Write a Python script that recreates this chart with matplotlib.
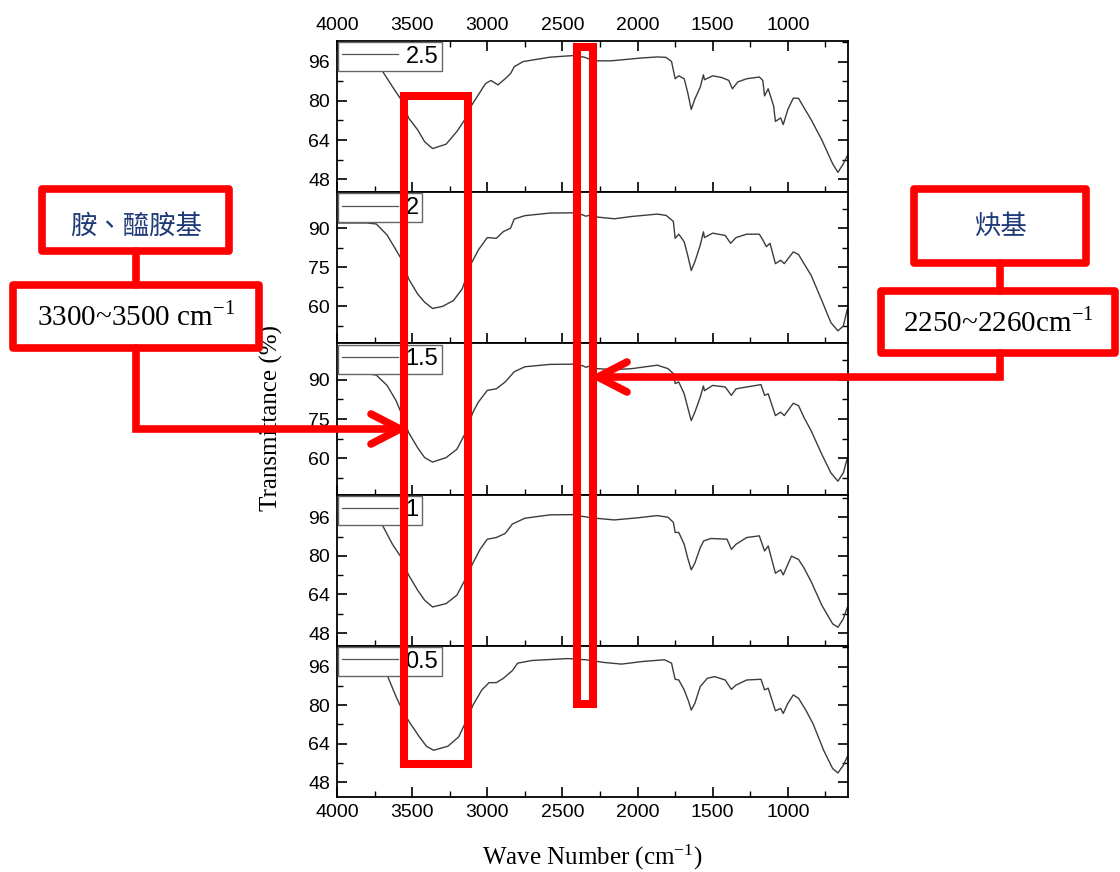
import matplotlib
matplotlib.use("Agg")
import matplotlib.pyplot as plt
from matplotlib.patches import Rectangle
from matplotlib.lines import Line2D
from matplotlib.ticker import MultipleLocator, FixedLocator
import matplotlib.transforms as mtransforms

plt.rcParams["font.family"] = ["Liberation Sans", "DejaVu Sans"]
plt.rcParams["mathtext.fontset"] = "stix"

# sample labels, top panel first
labels = ["2.5", "2", "1.5", "1", "0.5"]

# spectra (wavenumber cm-1, transmittance %)
wn_25 = [4000, 3800, 3702, 3607, 3560, 3524, 3464, 3417, 3364, 3274, 3202, 3150, 3107, 3012, 2976,
         2929, 2881, 2845, 2821, 2762, 2583, 2417, 2395, 2369, 2345, 2310, 2274, 2179, 2107, 1988,
         1869, 1810, 1774, 1750, 1726, 1690, 1667, 1643, 1619, 1583, 1562, 1555, 1500, 1440, 1393,
         1369, 1333, 1274, 1190, 1167, 1155, 1131, 1095, 1083, 1048, 1031, 1000, 964, 929, 893,
         845, 774, 702, 667, 631, 605]
t_25 = [93.0, 93.2, 92.5, 83.5, 79.3, 73.0, 68.2, 63.3, 60.5, 62.3, 67.5, 72.3, 77.9, 87.0, 88.3,
        86.5, 89.0, 91.1, 93.9, 96.0, 97.8, 98.5, 97.6, 98.0, 97.6, 96.7, 96.3, 96.3, 96.7, 97.4,
        97.9, 97.7, 96.0, 89.0, 90.2, 89.0, 83.5, 76.5, 80.7, 85.6, 90.6, 88.6, 90.2, 89.5, 88.3,
        84.9, 87.7, 89.0, 89.7, 88.3, 82.0, 84.9, 77.9, 71.6, 73.0, 70.3, 76.5, 81.1, 81.0, 77.2,
        72.3, 64.0, 54.3, 50.8, 54.3, 57.5]

wn_2 = [4000, 3800, 3738, 3667, 3607, 3560, 3524, 3464, 3417, 3364, 3298, 3226, 3167, 3107, 3060,
        3000, 2940, 2893, 2845, 2821, 2750, 2583, 2417, 2395, 2369, 2345, 2322, 2274, 2155, 2036,
        1869, 1810, 1762, 1750, 1726, 1690, 1667, 1643, 1619, 1583, 1562, 1555, 1500, 1417, 1381,
        1345, 1274, 1190, 1167, 1143, 1119, 1083, 1048, 1024, 964, 929, 893, 845, 774, 714,
        667, 631, 605]
t_2 = [92.0, 92.0, 91.6, 87.4, 81.6, 77.0, 70.6, 64.8, 61.6, 59.2, 60.0, 62.2, 66.7, 76.4, 81.6,
       86.4, 86.1, 88.7, 90.0, 93.5, 94.8, 95.8, 95.9, 95.1, 95.2, 94.6, 94.9, 94.3, 93.6, 94.5,
       95.4, 94.9, 92.6, 86.1, 87.7, 84.8, 79.7, 73.8, 77.1, 83.5, 88.6, 86.4, 88.1, 87.2, 84.2,
       86.4, 87.7, 87.7, 85.5, 82.9, 84.2, 76.4, 77.7, 76.4, 80.9, 79.9, 76.4, 71.9, 62.2, 53.8,
       50.6, 52.5, 58.8]

wn_15 = [4000, 3800, 3738, 3667, 3607, 3560, 3524, 3464, 3417, 3364, 3274, 3202, 3150, 3095, 3060,
         3000, 2940, 2881, 2821, 2750, 2583, 2417, 2395, 2369, 2345, 2322, 2274, 2155, 2036, 1869,
         1798, 1762, 1750, 1726, 1690, 1667, 1643, 1619, 1583, 1562, 1555, 1500, 1417, 1376, 1345,
         1274, 1179, 1155, 1131, 1083, 1048, 1024, 964, 929, 893, 845, 774, 714, 667, 631,
         605]
t_15 = [92.3, 92.3, 91.7, 87.8, 82.0, 75.6, 69.9, 64.1, 60.3, 58.6, 60.3, 63.5, 69.2, 77.6, 81.4,
        85.9, 86.5, 89.1, 93.0, 94.9, 95.8, 95.9, 95.0, 95.4, 94.7, 95.1, 94.2, 93.8, 94.2, 95.5,
        94.2, 92.3, 88.5, 89.1, 84.6, 79.5, 74.4, 77.6, 83.3, 87.6, 85.8, 87.8, 87.2, 84.0, 86.5,
        87.2, 88.1, 84.0, 84.6, 76.3, 77.6, 76.3, 81.0, 80.1, 75.6, 70.5, 61.5, 54.5, 51.3, 54.5,
        60.0]

wn_1 = [4000, 3780, 3702, 3631, 3571, 3524, 3464, 3417, 3364, 3274, 3202, 3143, 3095, 3048, 3000,
        2940, 2881, 2833, 2750, 2583, 2417, 2395, 2369, 2298, 2155, 2012, 1869, 1798, 1762, 1750,
        1726, 1690, 1667, 1643, 1619, 1583, 1560, 1512, 1405, 1376, 1345, 1274, 1190, 1155, 1131,
        1083, 1048, 1031, 976, 929, 893, 845, 774, 702, 667, 631, 605]
t_1 = [93.3, 93.3, 93.2, 84.8, 79.2, 72.1, 65.8, 61.6, 58.8, 60.2, 63.7, 70.7, 77.1, 82.7, 86.9,
       87.6, 89.3, 93.2, 95.6, 97.0, 97.1, 96.5, 96.4, 95.7, 94.9, 95.7, 96.7, 96.0, 93.9, 89.7,
       89.7, 84.8, 79.2, 74.2, 77.0, 83.4, 86.2, 87.2, 86.9, 82.7, 84.8, 87.6, 88.3, 82.0, 84.1,
       72.8, 74.2, 72.1, 79.9, 78.5, 75.0, 69.3, 59.5, 51.8, 50.4, 53.9, 58.5]

wn_05 = [4000, 3720, 3667, 3607, 3560, 3512, 3452, 3405, 3357, 3262, 3190, 3143, 3095, 3036, 2988,
         2940, 2893, 2833, 2798, 2702, 2464, 2345, 2226, 2107, 1964, 1821, 1774, 1762, 1750, 1726,
         1690, 1660, 1643, 1619, 1583, 1536, 1488, 1417, 1376, 1345, 1274, 1179, 1155, 1131, 1083,
         1048, 1031, 1000, 964, 929, 881, 833, 762, 702, 667, 631, 605]
t_05 = [93.5, 93.5, 92.5, 83.5, 77.2, 72.3, 66.8, 62.9, 61.2, 62.9, 66.8, 73.0, 80.0, 86.3, 89.3,
        89.3, 91.1, 94.3, 97.4, 98.5, 99.3, 98.8, 97.7, 97.0, 98.1, 98.8, 97.4, 93.9, 90.7, 90.4,
        86.3, 81.4, 77.9, 80.7, 87.7, 91.1, 91.8, 90.4, 86.5, 88.3, 90.4, 90.7, 86.3, 87.0, 77.6,
        78.6, 76.5, 80.7, 84.2, 82.8, 77.9, 72.3, 61.2, 53.6, 51.8, 55.0, 58.5]

spectra_wn = [wn_25, wn_2, wn_15, wn_1, wn_05]
spectra_t = [t_25, t_2, t_15, t_1, t_05]

ylims = [(42.7, 104.4), (45.8, 103.8), (46.2, 103.8), (42.7, 105.4), (41.8, 104.6)]
yticks = [[48, 64, 80, 96], [60, 75, 90], [60, 75, 90], [48, 64, 80, 96], [48, 64, 80, 96]]
yminor = [8, 7.5, 7.5, 8, 8]

# highlighted bands (wavenumber)
amide_band = (3555, 3131)
alkyne_band = (2405, 2298)

W, H = 1120, 872
fig, axes = plt.subplots(5, 1, sharex=True, figsize=(W / 100, H / 100), dpi=100,
                         gridspec_kw={"hspace": 0})
fig.subplots_adjust(left=337 / W, right=848 / W, top=1 - 41 / H, bottom=1 - 797 / H)

for i, ax in enumerate(axes):
    ax.plot(spectra_wn[i], spectra_t[i], color="#3c3c3c", lw=1.0, label=labels[i])
    ax.set_xlim(4000, 600)
    ax.set_ylim(*ylims[i])
    ax.yaxis.set_major_locator(FixedLocator(yticks[i]))
    ax.yaxis.set_minor_locator(MultipleLocator(yminor[i]))
    ax.xaxis.set_major_locator(MultipleLocator(500))
    ax.xaxis.set_minor_locator(MultipleLocator(250))
    ax.tick_params(which="both", direction="in", right=True, top=(i == 0),
                   labelsize=14, pad=5)
    ax.tick_params(which="major", length=7, width=1.2)
    ax.tick_params(which="minor", length=4, width=1.0)
    if i == 0:
        ax.tick_params(labeltop=True)
    for sp in ax.spines.values():
        sp.set_linewidth(1.3)
    leg = ax.legend(loc="upper left", fontsize=17, handlelength=2.4, handletextpad=0.3,
                    borderpad=0.15, borderaxespad=0.05, fancybox=False, framealpha=1,
                    edgecolor="#666666")
    leg.get_frame().set_linewidth(1.0)
    leg.get_lines()[0].set_linewidth(0.9)
    leg.get_lines()[0].set_color("#555555")
    leg.set_zorder(5)

fig.text(271 / W, 1 - 418 / H, "Transmittance (%)", rotation=90, ha="center", va="center",
         family="Liberation Serif", fontsize=18)
fig.text(592 / W, 1 - 857 / H, "Wave Number (cm$^{\\mathregular{-1}}$)", ha="center", va="center",
         family="Liberation Serif", fontsize=18)

# red band boxes spanning the panels
band_tr = mtransforms.blended_transform_factory(axes[0].transData, fig.transFigure)
for band, ytop, ybot in [(amide_band, 96, 764), (alkyne_band, 47, 704)]:
    fig.add_artist(Rectangle((band[0], 1 - ybot / H), band[1] - band[0], (ybot - ytop) / H,
                             transform=band_tr, fill=False, ec="#ff0000", lw=5.8,
                             joinstyle="miter", clip_on=False, zorder=10))


def fpt(x, y):
    return x / W, 1 - y / H


def red_box(x0, y0, x1, y1):
    fig.add_artist(Rectangle(fpt(x0, y1), (x1 - x0) / W, (y1 - y0) / H, transform=fig.transFigure,
                             fill=True, fc="white", ec="#ff0000", lw=5.5, joinstyle="round",
                             zorder=10))


def red_line(xs, ys):
    fig.add_artist(Line2D([x / W for x in xs], [1 - y / H for y in ys], transform=fig.transFigure,
                          color="#ff0000", lw=5.5, solid_capstyle="round",
                          solid_joinstyle="miter", zorder=11))


# left callout
red_line([136, 136], [251, 285])
red_line([136, 136, 398], [348, 429, 429])
red_line([371, 400, 371], [414, 429, 444])
red_box(42, 189, 229, 251)
red_box(13, 285, 259, 348)
fig.text(*fpt(136, 226), "胺、醯胺基", ha="center", va="center", color="#1f3a78",
         family=["Noto Sans CJK TC", "DejaVu Sans"], fontsize=19, zorder=12)
fig.text(*fpt(136, 318), "3300~3500 cm$^{\\mathregular{-1}}$", ha="center", va="center",
         family="Liberation Serif", fontsize=21, zorder=12)

# right callout
red_line([1000, 1000], [263, 291])
red_line([1000, 1000, 599], [353, 377, 377])
red_line([627, 598, 627], [362, 377, 392])
red_box(914, 189, 1086, 263)
red_box(881, 291, 1115, 353)
fig.text(*fpt(1000, 226), "炔基", ha="center", va="center", color="#1f3a78",
         family=["Noto Sans CJK TC", "DejaVu Sans"], fontsize=19, zorder=12)
fig.text(*fpt(998, 324), "2250~2260cm$^{\\mathregular{-1}}$", ha="center", va="center",
         family="Liberation Serif", fontsize=21, zorder=12)

fig.savefig("out.png", dpi=100)
